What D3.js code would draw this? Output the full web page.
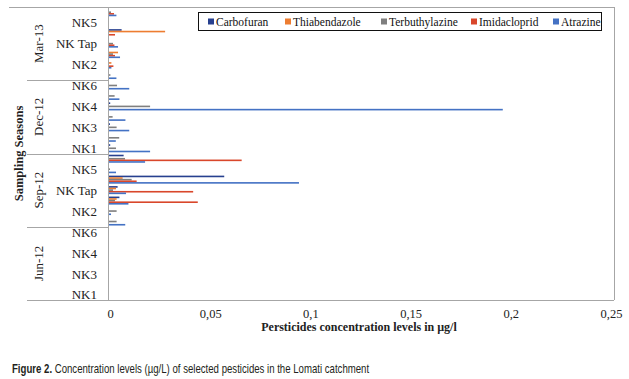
<!DOCTYPE html>
<html>
<head>
<meta charset="utf-8">
<script src="https://cdn.jsdelivr.net/npm/d3@7"></script>
<style>
  html, body { margin: 0; padding: 0; background: #fff; }
  svg { display: block; }
</style>
</head>
<body>
<script>
// ---------- DATA ----------
const seasons = ["Jun-12", "Sep-12", "Dec-12", "Mar-13"];
const sites = ["NK1", "NK2", "NK3", "NK Tap", "NK4", "NK5", "NK6"];
const pesticides = ["Carbofuran", "Thiabendazole", "Terbuthylazine", "Imidacloprid", "Atrazine"];
const xTicks = [0, 0.05, 0.1, 0.15, 0.2, 0.25];

// values per pesticide, ordered: Jun-12 NK1..NK6, Sep-12 NK1..NK6, Dec-12 NK1..NK6, Mar-13 NK1..NK6
const carbofuran     = [0,0,0,0,0,0,0,  0,0,0.0052,0.0043,0.0575,0,0.0073,  0.0006,0,0.0005,0,0.0006,0,0,  0,0,0,0,0.0063,0,0];
const thiabendazole  = [0,0,0,0,0,0,0,  0,0,0.0038,0.0035,0.0068,0,0,       0,0,0,0,0,0,0,                 0,0.0012,0.0045,0,0.028,0,0];
const terbuthylazine = [0,0,0,0,0,0,0,  0.0038,0.0038,0.003,0.002,0.0113,0.0005,0.008,  0.0035,0.0051,0.0038,0.0018,0.0205,0.0028,0.004,  0.0007,0,0.002,0.002,0,0,0.001];
const imidacloprid   = [0,0,0,0,0,0,0,  0,0,0.0443,0.042,0.0138,0,0.0662,   0,0,0,0,0,0,0,                 0,0.0022,0.003,0.0027,0.003,0,0.0025];
const atrazine       = [0,0,0,0,0,0,0,  0.0081,0.001,0.0097,0.0085,0.0948,0.0035,0.018,  0.0205,0.0034,0.0101,0.0082,0.1965,0.0052,0.0101,  0.0037,0.0012,0.0055,0.0045,0,0,0.0037];

const seriesValues = [carbofuran, thiabendazole, terbuthylazine, imidacloprid, atrazine];
const colors = ["#27408f", "#ed7d31", "#7f7f7f", "#d9472b", "#4472c4"];

// ---------- BUILD ----------
const W = 629, H = 379;
const plot = { left: 108, right: 609, top: 7, bottom: 300 };

const cats = [];
seasons.forEach(s => sites.forEach(t => cats.push({ season: s, site: t, key: s + "|" + t })));

const svg = d3.select("body").append("svg").attr("width", W).attr("height", H)
  .style("font-family", "'Liberation Serif', 'Times New Roman', serif");

svg.append("rect").attr("width", W).attr("height", H).attr("fill", "#fff");

const x = d3.scaleLinear().domain([0, 0.25]).range([plot.left, plot.right]);
const y = d3.scaleBand().domain(cats.map(c => c.key).reverse()).range([plot.top, plot.bottom]).paddingInner(0).paddingOuter(0);
const yInner = d3.scaleBand().domain(pesticides).range([0, y.bandwidth()]).paddingInner(0).paddingOuter(0.75);

// frame lines
const lineCol = "#a6a6a6";
const g = svg.append("g");
g.append("line").attr("x1", 9).attr("x2", 614).attr("y1", plot.top + 0.5).attr("y2", plot.top + 0.5).attr("stroke", lineCol);
g.append("line").attr("x1", 614.5).attr("x2", 614.5).attr("y1", plot.top).attr("y2", plot.bottom).attr("stroke", lineCol);
g.append("line").attr("x1", 27).attr("x2", 614).attr("y1", plot.bottom + 0.5).attr("y2", plot.bottom + 0.5).attr("stroke", lineCol);
g.append("line").attr("x1", plot.left + 0.5).attr("x2", plot.left + 0.5).attr("y1", plot.top).attr("y2", plot.bottom).attr("stroke", lineCol);

// season separators
seasons.forEach(s => {
  const keys = sites.map(t => s + "|" + t);
  const top = d3.min(keys, k => y(k));
  g.append("line").attr("x1", 27).attr("x2", plot.left).attr("y1", Math.round(top) + 0.5).attr("y2", Math.round(top) + 0.5).attr("stroke", lineCol);
});

// bars
const barG = svg.append("g");
pesticides.forEach((p, j) => {
  barG.selectAll(null)
    .data(cats.map((c, i) => ({ key: c.key, v: seriesValues[j][i] })).filter(d => d.v > 0))
    .join("rect")
    .attr("x", x(0) + 1)
    .attr("y", d => y(d.key) + yInner(p))
    .attr("width", d => x(d.v) - x(0))
    .attr("height", yInner.bandwidth())
    .attr("fill", colors[j]);
});

// site labels (every other category, like the original)
svg.append("g").selectAll("text")
  .data(cats.filter((c, i) => i % 2 === 0))
  .join("text")
  .attr("x", 97)
  .attr("y", d => y(d.key) + y.bandwidth() / 2)
  .attr("dy", "0.36em")
  .attr("text-anchor", "end")
  .attr("font-size", 13)
  .attr("fill", "#222")
  .text(d => d.site);

// season labels
seasons.forEach(s => {
  const keys = sites.map(t => s + "|" + t);
  const cy = (d3.min(keys, k => y(k)) + d3.max(keys, k => y(k) + y.bandwidth())) / 2;
  svg.append("text")
    .attr("transform", `translate(42.5,${cy}) rotate(-90)`)
    .attr("text-anchor", "middle")
    .attr("font-size", 13)
    .attr("fill", "#222")
    .text(s);
});

// y title
svg.append("text")
  .attr("transform", `translate(23,${(plot.top + plot.bottom) / 2}) rotate(-90)`)
  .attr("text-anchor", "middle")
  .attr("font-size", 12.5)
  .attr("font-weight", "bold")
  .attr("fill", "#222")
  .text("Sampling Seasons");

// x axis
const xAxis = d3.axisBottom(x)
  .tickValues(xTicks)
  .tickSize(0)
  .tickPadding(9)
  .tickFormat(d => d === 0 ? "0" : String(d).replace(".", ","));
const ax = svg.append("g").attr("transform", `translate(2,${plot.bottom})`).call(xAxis);
ax.select(".domain").remove();
ax.selectAll("text").attr("font-size", 12.5).attr("font-family", "'Liberation Serif', serif").attr("fill", "#222");

// x title
svg.append("text")
  .attr("x", 359)
  .attr("y", 331)
  .attr("text-anchor", "middle")
  .attr("font-size", 12)
  .attr("font-weight", "bold")
  .attr("fill", "#222")
  .text("Persticides concentration levels in µg/l");

// legend
const legendX = [208, 285, 381, 471, 553];
const leg = svg.append("g");
leg.append("rect").attr("x", 198.5).attr("y", 12.5).attr("width", 403).attr("height", 18)
  .attr("fill", "#fff").attr("stroke", "#111").attr("stroke-width", 1);
pesticides.forEach((p, j) => {
  leg.append("rect").attr("x", legendX[j]).attr("y", 18.5).attr("width", 6).attr("height", 6).attr("fill", colors[j]);
  leg.append("text").attr("x", legendX[j] + 8).attr("y", 25.5).attr("font-size", 11.5).attr("fill", "#111").text(p);
});

// caption
const cap = svg.append("text")
  .attr("transform", "translate(12,373) scale(0.77,1)")
  .attr("font-family", "'Liberation Sans', Arial, sans-serif")
  .attr("font-size", 12.5).attr("fill", "#231f20");
cap.append("tspan").attr("font-weight", "bold").text("Figure 2.");
cap.append("tspan").text(" Concentration levels (µg/L) of selected pesticides in the Lomati catchment");
</script>
</body>
</html>
